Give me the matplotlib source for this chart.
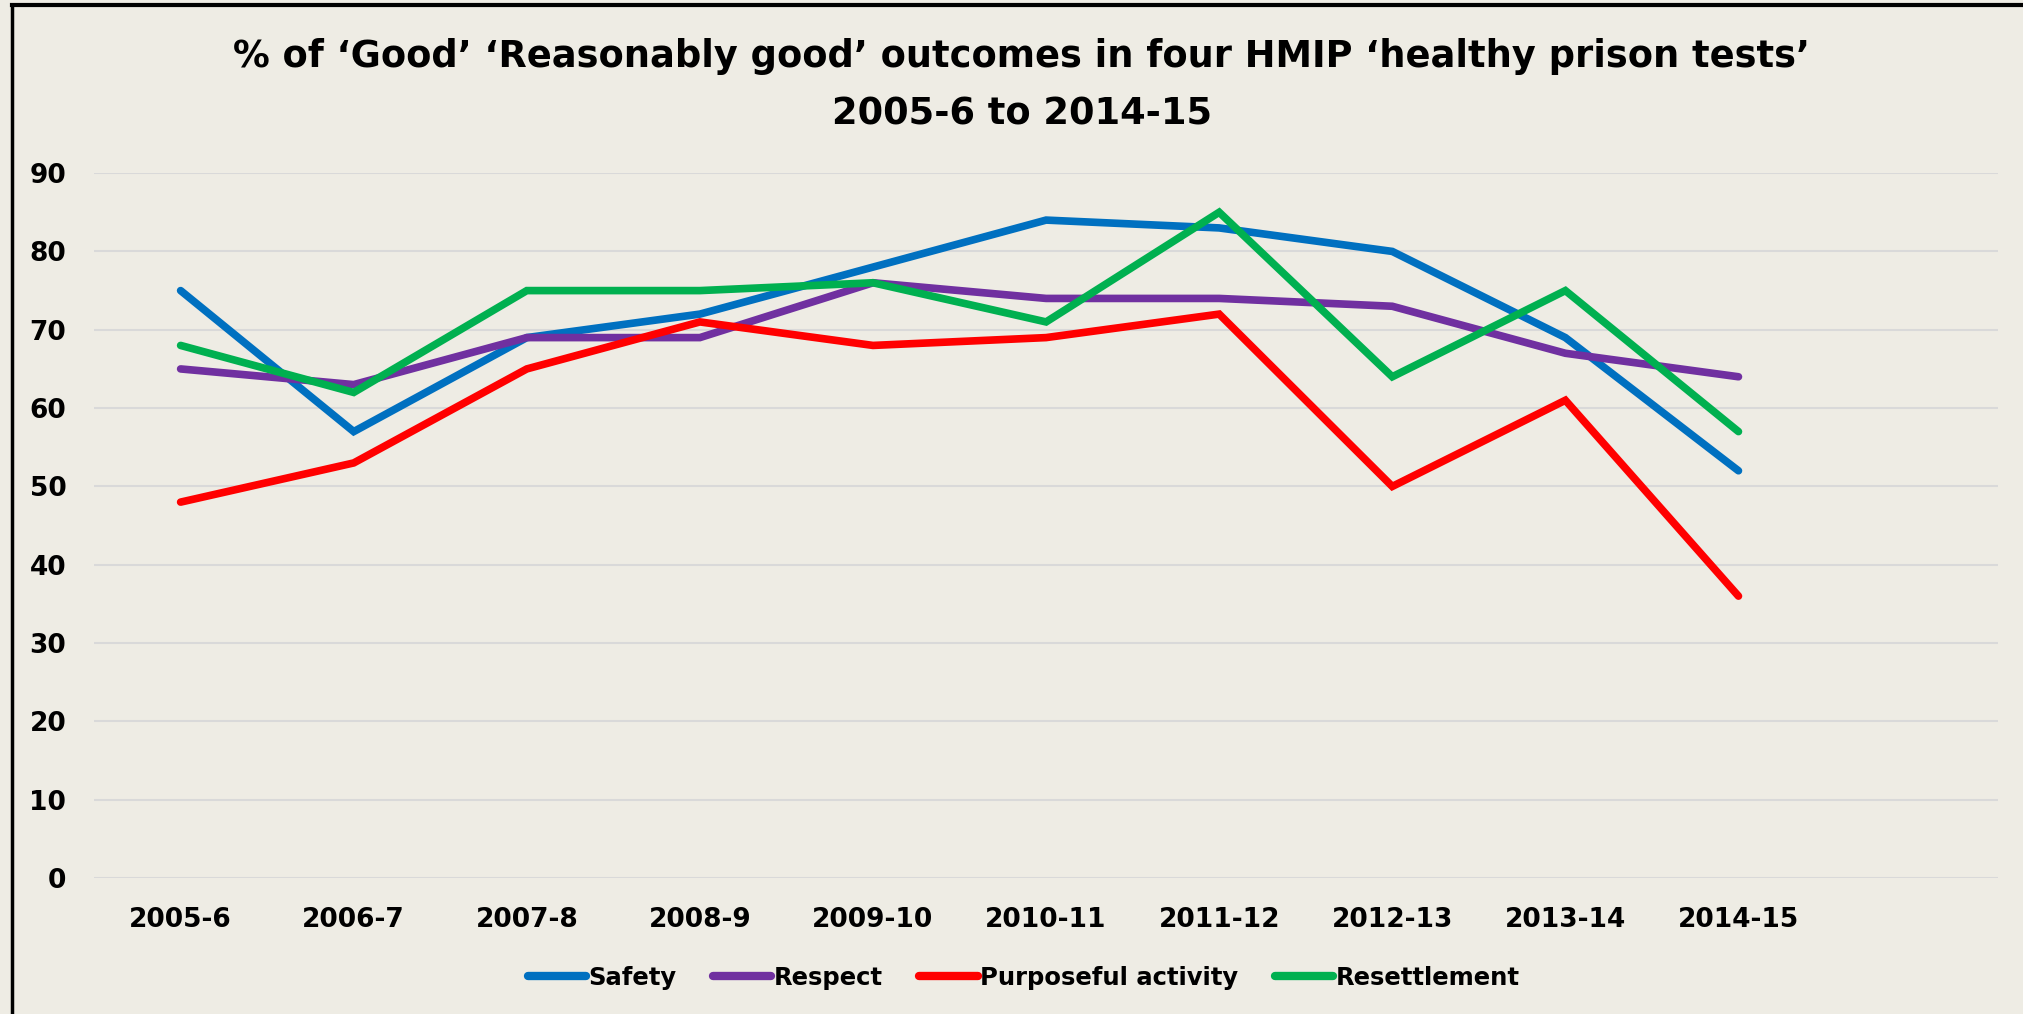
import matplotlib
matplotlib.use("Agg")
import matplotlib.pyplot as plt
from matplotlib.lines import Line2D

# --- datos ---
years = ["2005-6", "2006-7", "2007-8", "2008-9", "2009-10",
         "2010-11", "2011-12", "2012-13", "2013-14", "2014-15"]
safety = [75, 57, 69, 72, 78, 84, 83, 80, 69, 52]
respect = [65, 63, 69, 69, 76, 74, 74, 73, 67, 64]
purposeful = [48, 53, 65, 71, 68, 69, 72, 50, 61, 36]
resettlement = [68, 62, 75, 75, 76, 71, 85, 64, 75, 57]

series = [("Safety", safety, "#0070C0"),
          ("Respect", respect, "#7030A0"),
          ("Purposeful activity", purposeful, "#FF0000"),
          ("Resettlement", resettlement, "#00B050")]

BG = "#EEECE4"
plt.rcParams["font.family"] = ["DejaVu Sans"]

fig = plt.figure(figsize=(20.23, 10.14), dpi=100, facecolor=BG)
ax = fig.add_axes([0.0465, 0.134, 0.9412, 0.6953], facecolor=BG)

x = list(range(len(years)))
for name, vals, col in series:
    ax.plot(x, vals, color=col, lw=5.5, solid_capstyle="round",
            solid_joinstyle="miter", label=name)

ax.set_xlim(-0.5, len(years) + 0.5)
ax.set_ylim(0, 90)
ax.set_yticks(range(0, 91, 10))
ax.set_xticks(x)
ax.set_xticklabels(years)
ax.grid(axis="y", color="#D9D9D9", lw=1.5)
ax.set_axisbelow(True)
for s in ax.spines.values():
    s.set_visible(False)
ax.tick_params(axis="y", length=0, pad=20, labelsize=19)
ax.tick_params(axis="x", length=0, pad=21, labelsize=19)
for lab in ax.get_xticklabels() + ax.get_yticklabels():
    lab.set_fontweight("bold")

fig.text(0.505, 0.944, "% of \u2018Good\u2019 \u2018Reasonably good\u2019 outcomes in four HMIP \u2018healthy prison tests\u2019",
         ha="center", va="center", fontsize=26.5, fontweight="bold")
fig.text(0.505, 0.888, "2005-6 to 2014-15", ha="center", va="center",
         fontsize=26.5, fontweight="bold")

leg = fig.legend(loc="center", bbox_to_anchor=(0.506, 0.0355), ncol=4, frameon=False,
                 prop={"size": 17.5, "weight": "bold"}, handlelength=2.4,
                 handletextpad=0.1, columnspacing=1.5)
for h in leg.get_lines():
    h.set_linewidth(6)

# marco del gráfico (parcialmente recortado)
fig.add_artist(Line2D([12 / 2023, 12 / 2023], [0, 1 - 5 / 1014], transform=fig.transFigure,
                      color="black", lw=2.5))
fig.add_artist(Line2D([12 / 2023, 1], [1 - 5 / 1014, 1 - 5 / 1014], transform=fig.transFigure,
                      color="black", lw=3))

fig.savefig("out.png", dpi=100, facecolor=BG)
